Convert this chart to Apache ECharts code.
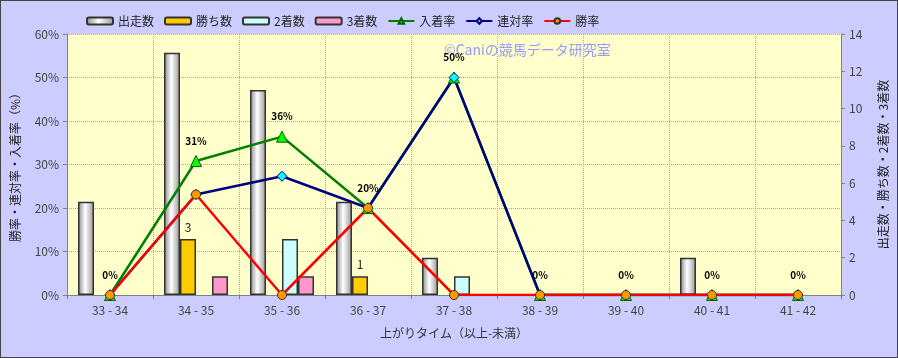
<!DOCTYPE html>
<html><head><meta charset="utf-8">
<script src="https://cdn.jsdelivr.net/npm/echarts@6/dist/echarts.min.js"></script>
<style>
html,body{margin:0;padding:0;background:#CCCCFF;}
#c{position:absolute;left:0;top:0;width:896px;height:356px;border:1px solid #444;}
</style></head><body>
<div id="c"></div>
<script>
const categories = ['33 - 34','34 - 35','35 - 36','36 - 37','37 - 38','38 - 39','39 - 40','40 - 41','41 - 42'];
const runs   = [5, 13, 11, 5, 2, 0, 0, 2, 0];
const wins   = [0, 3, 0, 1, 0, 0, 0, 0, 0];
const second = [0, 0, 3, 0, 1, 0, 0, 0, 0];
const third  = [0, 1, 1, 0, 0, 0, 0, 0, 0];
const placeRate = [0, 30.8, 36.4, 20, 50, 0, 0, 0, 0];
const quinellaRate = [0, 23.1, 27.3, 20, 50, 0, 0, 0, 0];
const winRate = [0, 23.1, 0, 20, 0, 0, 0, 0, 0];

const FONT = '"Noto Sans CJK JP", sans-serif';
const chart = echarts.init(document.getElementById('c'));
function grad(a,b,c){return new echarts.graphic.LinearGradient(0,0,1,0,[{offset:0,color:a},{offset:0.45,color:b},{offset:1,color:c}]);}
const barBorder = {borderColor:'#333', borderWidth:1.5};
const nz = arr => arr.map(v => v === 0 ? '-' : v);
const gridLine = {show:true,lineStyle:{type:[1,1],color:'#A8A8A8',width:1}};
chart.setOption({
  animation:false,
  backgroundColor:'#CCCCFF',
  textStyle:{fontFamily:FONT},
  legend:{
    left:80, top:9, itemWidth:26, itemHeight:7, itemGap:10,
    textStyle:{fontSize:12,color:'#222',fontFamily:FONT},
    data:['出走数','勝ち数','2着数','3着数','入着率','連対率','勝率']
  },
  graphic:[{type:'text',left:443,top:42,z:1,style:{text:'©Caniの競馬データ研究室',fill:'#9999FF',font:'14px '+FONT}}],
  grid:{left:65,right:53,top:33,bottom:62,show:true,backgroundColor:'#FFFFCC',borderWidth:0},
  xAxis:{
    type:'category', data:categories,
    name:'上がりタイム（以上-未満）', nameLocation:'middle', nameGap:32,
    nameTextStyle:{fontSize:12,color:'#333'},
    axisLine:{lineStyle:{color:'#808080'}},
    axisTick:{show:true,length:4,lineStyle:{color:'#808080'}},
    axisLabel:{fontSize:12,color:'#444',margin:9},
    splitLine:gridLine
  },
  yAxis:[{
    type:'value', min:0, max:60, interval:10, position:'left',
    name:'勝率・連対率・入着率（%）', nameLocation:'middle', nameGap:46, nameRotate:90,
    nameTextStyle:{fontSize:12,color:'#222'},
    axisLine:{show:true,lineStyle:{color:'#808080'}},
    axisTick:{show:true,length:4,lineStyle:{color:'#808080'}},
    axisLabel:{formatter:'{value}%',fontSize:12,color:'#444',margin:8},
    splitLine:gridLine
  },{
    type:'value', min:0, max:14, interval:2, position:'right',
    name:'出走数・勝ち数・2着数・3着数', nameLocation:'middle', nameGap:36, nameRotate:90,
    nameTextStyle:{fontSize:12,color:'#222'},
    axisLine:{show:true,lineStyle:{color:'#808080'}},
    axisTick:{show:true,length:4,lineStyle:{color:'#808080'}},
    axisLabel:{fontSize:12,color:'#444',margin:8},
    splitLine:{show:false}
  }],
  series:[
    {name:'出走数',type:'bar',yAxisIndex:1,data:nz(runs),barWidth:16,barGap:'0%',barCategoryGap:'26%',
     itemStyle:Object.assign({color:grad('#858585','#ffffff','#959595')},barBorder)},
    {name:'勝ち数',type:'bar',yAxisIndex:1,data:nz(wins),barWidth:16,
     itemStyle:Object.assign({color:'#FFCC00'},barBorder),
     label:{show:true,position:'top',distance:6,fontSize:12,color:'#222'}},
    {name:'2着数',type:'bar',yAxisIndex:1,data:nz(second),barWidth:16,
     itemStyle:Object.assign({color:'#CCFFFF'},barBorder)},
    {name:'3着数',type:'bar',yAxisIndex:1,data:nz(third),barWidth:16,
     itemStyle:Object.assign({color:'#FF99CC'},barBorder)},
    {name:'入着率',type:'line',yAxisIndex:0,data:placeRate,symbol:'triangle',symbolSize:11,
     lineStyle:{color:'#008000',width:2.5},itemStyle:{color:'#00FF00',borderColor:'#006000',borderWidth:1},
     label:{show:true,position:'top',distance:9,fontSize:10,fontWeight:'bold',color:'#000',formatter:p=>Math.round(p.value)+'%'}},
    {name:'連対率',type:'line',yAxisIndex:0,data:quinellaRate,symbol:'diamond',symbolSize:10,
     lineStyle:{color:'#000080',width:2.5},itemStyle:{color:'#00FFFF',borderColor:'#000080',borderWidth:1}},
    {name:'勝率',type:'line',yAxisIndex:0,data:winRate,symbol:'circle',symbolSize:9,
     lineStyle:{color:'#FF0000',width:2.5},itemStyle:{color:'#FF9900',borderColor:'#333',borderWidth:1}}
  ]
});
</script></body></html>
